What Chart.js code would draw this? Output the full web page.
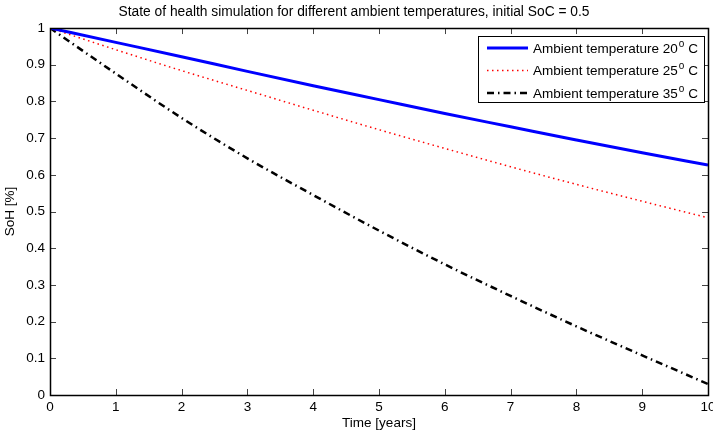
<!DOCTYPE html>
<html>
<head>
<meta charset="utf-8">
<script src="https://cdn.jsdelivr.net/npm/chart.js@4"></script>
<style>
  html, body { margin: 0; padding: 0; background: #fff; }
  #wrap { width: 713px; height: 433px; }
</style>
</head>
<body>
<div id="wrap"><canvas id="myChart" width="713" height="433"></canvas></div>
<script>
// time axis in years
const years = [0, 1, 2, 3, 4, 5, 6, 7, 8, 9, 10];
// state of health
const soh20 = [1, 0.961, 0.922, 0.882, 0.843, 0.805, 0.767, 0.731, 0.695, 0.660, 0.627];
const soh25 = [1, 0.941, 0.884, 0.830, 0.776, 0.723, 0.672, 0.622, 0.574, 0.528, 0.483];
const soh35 = [1, 0.876, 0.755, 0.645, 0.545, 0.448, 0.356, 0.270, 0.187, 0.108, 0.030];
const labels = ['Ambient temperature 20', 'Ambient temperature 25', 'Ambient temperature 35'];

const font = "'Liberation Sans', Arial, sans-serif";

function toPoints(arr) {
    return arr.map((v, i) => ({ x: years[i], y: v }));
}

const datasets = [
    { label: labels[0], data: toPoints(soh20), borderColor: '#0000ff', borderWidth: 3, borderDash: [] },
    { label: labels[1], data: toPoints(soh25), borderColor: '#ff0000', borderWidth: 1.5, borderDash: [1.5, 3.5] },
    { label: labels[2], data: toPoints(soh35), borderColor: '#000000', borderWidth: 2.5, borderDash: [7, 4, 1.5, 4] }
];
datasets.forEach(d => {
    d.pointRadius = 0;
    d.fill = false;
    d.cubicInterpolationMode = 'monotone';
});

// box, inward ticks and the legend, matlab style
const frame = {
    id: 'frame',
    afterDraw(chart) {
        const ctx = chart.ctx;
        const a = chart.chartArea;
        const xs = chart.scales.x;
        const ys = chart.scales.y;
        ctx.save();
        ctx.lineWidth = 1;
        ctx.setLineDash([]);
        ctx.beginPath();
        xs.ticks.forEach(t => {
            const px = Math.round(xs.getPixelForValue(t.value)) + 0.5;
            ctx.moveTo(px, a.bottom); ctx.lineTo(px, a.bottom - 6);
            ctx.moveTo(px, a.top); ctx.lineTo(px, a.top + 6);
        });
        ys.ticks.forEach(t => {
            const py = Math.round(ys.getPixelForValue(t.value)) + 0.5;
            ctx.moveTo(a.left, py); ctx.lineTo(a.left + 6, py);
            ctx.moveTo(a.right, py); ctx.lineTo(a.right - 6, py);
        });
        ctx.strokeStyle = '#444';
        ctx.stroke();
        ctx.strokeStyle = '#000';
        ctx.lineWidth = 1.5;
        ctx.strokeRect(Math.round(a.left) + 0.5, Math.round(a.top) + 0.5, Math.round(a.right - a.left), Math.round(a.bottom - a.top));

        // legend
        const bx = 478, by = 36, bw = 226, bh = 66;
        ctx.fillStyle = '#fff';
        ctx.fillRect(bx, by, bw, bh);
        ctx.lineWidth = 1;
        ctx.strokeRect(bx + 0.5, by + 0.5, bw, bh);
        chart.data.datasets.forEach((d, i) => {
            const y = 48 + i * 22.5;
            ctx.beginPath();
            ctx.strokeStyle = d.borderColor;
            ctx.lineWidth = d.borderWidth;
            ctx.setLineDash(d.borderDash);
            ctx.moveTo(487, y);
            ctx.lineTo(528, y);
            ctx.stroke();
            ctx.setLineDash([]);
            ctx.fillStyle = '#000';
            ctx.textBaseline = 'middle';
            ctx.textAlign = 'left';
            ctx.font = '13.5px ' + font;
            let tx = 533;
            ctx.fillText(d.label, tx, y + 1);
            tx += ctx.measureText(d.label).width + 1;
            ctx.font = '10px ' + font;
            ctx.fillText('o', tx, y - 4);
            tx += ctx.measureText('o').width;
            ctx.font = '13.5px ' + font;
            ctx.fillText(' C', tx, y + 1);
        });
        ctx.restore();
    }
};

new Chart(document.querySelector('#myChart'), {
    type: 'line',
    data: { datasets },
    options: {
        responsive: false,
        animation: false,
        layout: { padding: { left: 0, right: 5, top: 0, bottom: 0 } },
        plugins: {
            legend: { display: false },
            tooltip: { enabled: false },
            title: {
                display: true,
                text: 'State of health simulation for different ambient temperatures, initial SoC = 0.5',
                color: '#000',
                font: { family: font, size: 13.8, weight: 'normal' },
                padding: { top: 4, bottom: 7.5 }
            }
        },
        scales: {
            x: {
                type: 'linear',
                min: 0,
                max: 10,
                ticks: { stepSize: 1, color: '#000', font: { family: font, size: 13.5 }, padding: 4, maxRotation: 0 },
                grid: { display: false, drawTicks: false },
                border: { display: false },
                title: { display: true, text: 'Time [years]', color: '#000', font: { family: font, size: 13.5 }, padding: { top: 0, bottom: 2 } },
                afterFit(scale) { scale.height = 38; scale.paddingLeft = 0; scale.paddingRight = 0; }
            },
            y: {
                min: 0,
                max: 1,
                ticks: {
                    stepSize: 0.1, color: '#000', font: { family: font, size: 13.5 }, padding: 5,
                    callback: v => String(Math.round(v * 10) / 10)
                },
                grid: { display: false, drawTicks: false },
                border: { display: false },
                title: { display: true, text: 'SoH [%]', color: '#000', font: { family: font, size: 13.5 }, padding: { top: 2, bottom: 4 } },
                afterFit(scale) { scale.width = 50; scale.paddingTop = 0; scale.paddingBottom = 0; }
            }
        }
    },
    plugins: [frame]
});
</script>
</body>
</html>
